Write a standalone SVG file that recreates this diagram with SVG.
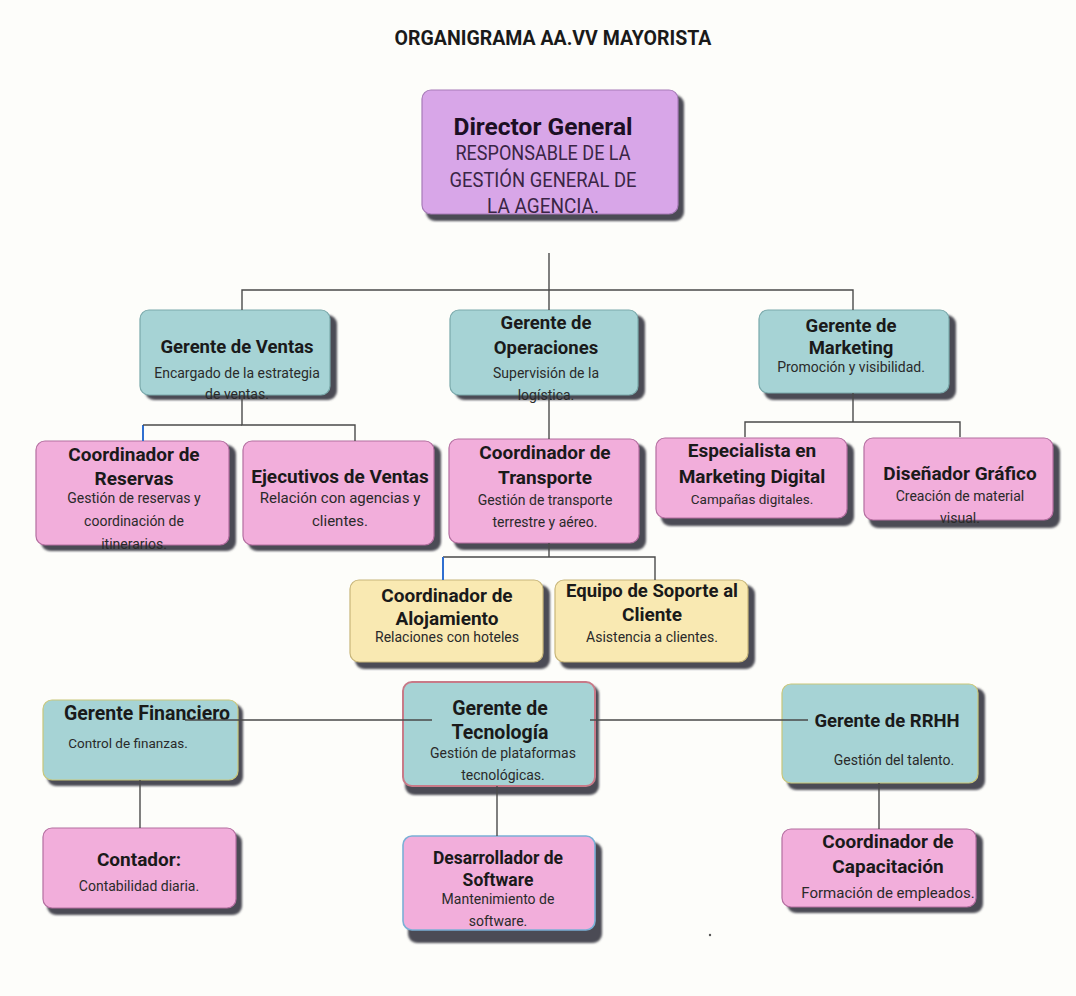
<svg xmlns="http://www.w3.org/2000/svg" width="1076" height="996" viewBox="0 0 1076 996">
<defs>
<filter id="blur" x="-10%" y="-10%" width="120%" height="130%"><feGaussianBlur stdDeviation="1.2"/></filter>
</defs>
<style>
text{font-family:Roboto,"Liberation Sans",sans-serif;text-anchor:middle;}
.t{font-weight:bold;font-size:19px;fill:#1a1a1a;}
.d{font-size:14px;fill:#2a2a2a;}
.sh{fill:#4c4c55;filter:url(#blur);}
.teal{fill:#a6d3d5;stroke:#7aa9ab;stroke-width:1.2;}
.pink{fill:#f2aedb;stroke:#b46ea0;stroke-width:1.2;}
.purple{fill:#d8a6e8;stroke:#a77bb8;stroke-width:1.2;}
.yellow{fill:#f9e9b2;stroke:#c8b67a;stroke-width:1.2;}
.c{stroke:#4a4a4a;stroke-width:1.4;fill:none;}
.cb{stroke:#2f6fd0;stroke-width:2;fill:none;}
</style>
<rect width="1076" height="996" fill="#fdfdfa"/>
<text x="553" y="45" style="font-weight:bold;font-size:19.5px;fill:#1a1a1a">ORGANIGRAMA AA.VV MAYORISTA</text>

<g id="director">
<rect class="sh" x="426" y="95" width="258" height="126" rx="9"/>
<rect class="purple" x="422" y="90" width="256" height="124" rx="9"/>
<text x="543" y="135" style="font-weight:bold;font-size:24.5px;fill:#1c0f24">Director General</text>
<text x="543" y="160" textLength="175" lengthAdjust="spacingAndGlyphs" style="font-size:21px;fill:#3a2545">RESPONSABLE DE LA</text>
<text x="543" y="187" textLength="187" lengthAdjust="spacingAndGlyphs" style="font-size:21px;fill:#3a2545">GESTIÓN GENERAL DE</text>
<text x="543" y="213" textLength="112" lengthAdjust="spacingAndGlyphs" style="font-size:21px;fill:#3a2545">LA AGENCIA.</text>
</g>

<g id="gerente-ventas">
<rect class="sh" x="145" y="315" width="192" height="85" rx="9"/>
<rect class="teal" x="140" y="310" width="190" height="85" rx="9"/>
<text class="t" x="237" y="353" style="font-size:18.5px">Gerente de Ventas</text>
<text class="d" x="237" y="378">Encargado de la estrategia</text>
<text class="d" x="237" y="399">de ventas.</text>
</g>

<g id="gerente-operaciones">
<rect class="sh" x="455" y="315" width="190" height="85" rx="9"/>
<rect class="teal" x="450" y="310" width="188" height="85" rx="9"/>
<text class="t" x="546" y="329" style="font-size:18.5px">Gerente de</text>
<text class="t" x="546" y="354" style="font-size:18.5px">Operaciones</text>
<text class="d" x="546" y="378">Supervisión de la</text>
<text class="d" x="546" y="400">logística.</text>
</g>

<g id="gerente-marketing">
<rect class="sh" x="764" y="315" width="192" height="85" rx="9"/>
<rect class="teal" x="759" y="310" width="190" height="83" rx="9"/>
<text class="t" x="851" y="332" style="font-size:18.5px">Gerente de</text>
<text class="t" x="851" y="354" style="font-size:18.5px">Marketing</text>
<text class="d" x="851" y="372">Promoción y visibilidad.</text>
</g>

<g id="coord-reservas">
<rect class="sh" x="41" y="445" width="195" height="106" rx="9"/>
<rect class="pink" x="36" y="441" width="193" height="104" rx="9"/>
<text class="t" x="134" y="461">Coordinador de</text>
<text class="t" x="134" y="485">Reservas</text>
<text class="d" x="134" y="503">Gestión de reservas y</text>
<text class="d" x="134" y="526">coordinación de</text>
<text class="d" x="134" y="549">itinerarios.</text>
</g>

<g id="ejecutivos-ventas">
<rect class="sh" x="248" y="445" width="193" height="106" rx="9"/>
<rect class="pink" x="243" y="441" width="191" height="104" rx="9"/>
<text class="t" x="340" y="483">Ejecutivos de Ventas</text>
<text class="d" x="340" y="503" style="font-size:15px">Relación con agencias y</text>
<text class="d" x="340" y="526" style="font-size:15px">clientes.</text>
</g>

<g id="coord-transporte">
<rect class="sh" x="454" y="444" width="192" height="106" rx="9"/>
<rect class="pink" x="449" y="439" width="190" height="104" rx="9"/>
<text class="t" x="545" y="459">Coordinador de</text>
<text class="t" x="545" y="484">Transporte</text>
<text class="d" x="545" y="505">Gestión de transporte</text>
<text class="d" x="545" y="527">terrestre y aéreo.</text>
</g>

<g id="especialista-marketing">
<rect class="sh" x="661" y="443" width="193" height="83" rx="9"/>
<rect class="pink" x="656" y="438" width="191" height="80" rx="9"/>
<text class="t" x="752" y="457">Especialista en</text>
<text class="t" x="752" y="483">Marketing Digital</text>
<text class="d" x="752" y="504" style="font-size:13.5px">Campañas digitales.</text>
</g>

<g id="disenador-grafico">
<rect class="sh" x="869" y="443" width="191" height="85" rx="9"/>
<rect class="pink" x="864" y="438" width="189" height="82" rx="9"/>
<text class="t" x="960" y="480">Diseñador Gráfico</text>
<text class="d" x="960" y="501">Creación de material</text>
<text class="d" x="960" y="523">visual.</text>
</g>

<g id="coord-alojamiento">
<rect class="sh" x="355" y="585" width="195" height="84" rx="9"/>
<rect class="yellow" x="350" y="580" width="193" height="82" rx="9"/>
<text class="t" x="447" y="602">Coordinador de</text>
<text class="t" x="447" y="625">Alojamiento</text>
<text class="d" x="447" y="642">Relaciones con hoteles</text>
</g>

<g id="soporte-cliente">
<rect class="sh" x="560" y="585" width="195" height="84" rx="9"/>
<rect class="yellow" x="555" y="580" width="193" height="82" rx="9"/>
<text class="t" x="652" y="597" style="font-size:18.5px">Equipo de Soporte al</text>
<text class="t" x="652" y="621">Cliente</text>
<text class="d" x="652" y="642">Asistencia a clientes.</text>
</g>

<g id="gerente-financiero">
<rect class="sh" x="47" y="704" width="196" height="82" rx="9"/>
<rect class="teal" x="43" y="700" width="195" height="80" rx="9" style="stroke:#c9c77a"/>
<text class="t" x="147" y="720" style="font-size:19.5px">Gerente Financiero</text>
<text class="d" x="128" y="748" style="font-size:13.5px">Control de finanzas.</text>
</g>

<g id="gerente-tecnologia">
<rect class="sh" x="405" y="685" width="194" height="110" rx="9"/>
<rect class="teal" x="403" y="682" width="192" height="104" rx="9" style="stroke:#c87a88;stroke-width:2"/>
<text class="t" x="500" y="715" style="font-size:19.5px">Gerente de</text>
<text class="t" x="500" y="739" style="font-size:19.5px">Tecnología</text>
<text class="d" x="503" y="758">Gestión de plataformas</text>
<text class="d" x="503" y="780">tecnológicas.</text>
</g>

<g id="gerente-rrhh">
<rect class="sh" x="787" y="688" width="198" height="102" rx="9"/>
<rect class="teal" x="782" y="684" width="196" height="99" rx="9" style="stroke:#c9c77a"/>
<text class="t" x="887" y="727" style="font-size:18.5px">Gerente de RRHH</text>
<text class="d" x="894" y="765">Gestión del talento.</text>
</g>

<g id="contador">
<rect class="sh" x="47" y="833" width="195" height="82" rx="9"/>
<rect class="pink" x="43" y="828" width="193" height="80" rx="9"/>
<text class="t" x="139" y="866">Contador:</text>
<text class="d" x="139" y="891">Contabilidad diaria.</text>
</g>

<g id="desarrollador-software">
<rect class="sh" x="408" y="842" width="194" height="101" rx="9"/>
<rect class="pink" x="403" y="836" width="192" height="94" rx="9" style="stroke:#7ab0d6;stroke-width:1.6"/>
<text class="t" x="498" y="864" style="font-size:17.5px">Desarrollador de</text>
<text class="t" x="498" y="886" style="font-size:17.5px">Software</text>
<text class="d" x="498" y="904">Mantenimiento de</text>
<text class="d" x="498" y="926">software.</text>
</g>

<g id="coord-capacitacion">
<rect class="sh" x="787" y="833" width="196" height="80" rx="9"/>
<rect class="pink" x="782" y="829" width="194" height="78" rx="9"/>
<text class="t" x="888" y="848">Coordinador de</text>
<text class="t" x="888" y="873">Capacitación</text>
<text class="d" x="888" y="898" style="font-size:15px">Formación de empleados.</text>
</g>

<g id="connectors">
<path class="c" d="M549 253V310M242 310V290H853V310"/>
<path class="c" d="M242 395V425H355V441"/>
<path class="cb" d="M143 425V441"/>
<path class="c" d="M143 425H242"/>
<path class="c" d="M549 395V439"/>
<path class="c" d="M853 393V422H745V437M853 422H960V437"/>
<path class="c" d="M549 543V557H655V580M549 557H443"/>
<path class="cb" d="M443 557V580"/>
<path class="c" d="M185 720H432M590 720H808"/>
<path class="c" d="M140 780V828M497 786V836M879 783V829"/>
</g>
<circle cx="710" cy="935" r="1.2" fill="#555"/>
</svg>
